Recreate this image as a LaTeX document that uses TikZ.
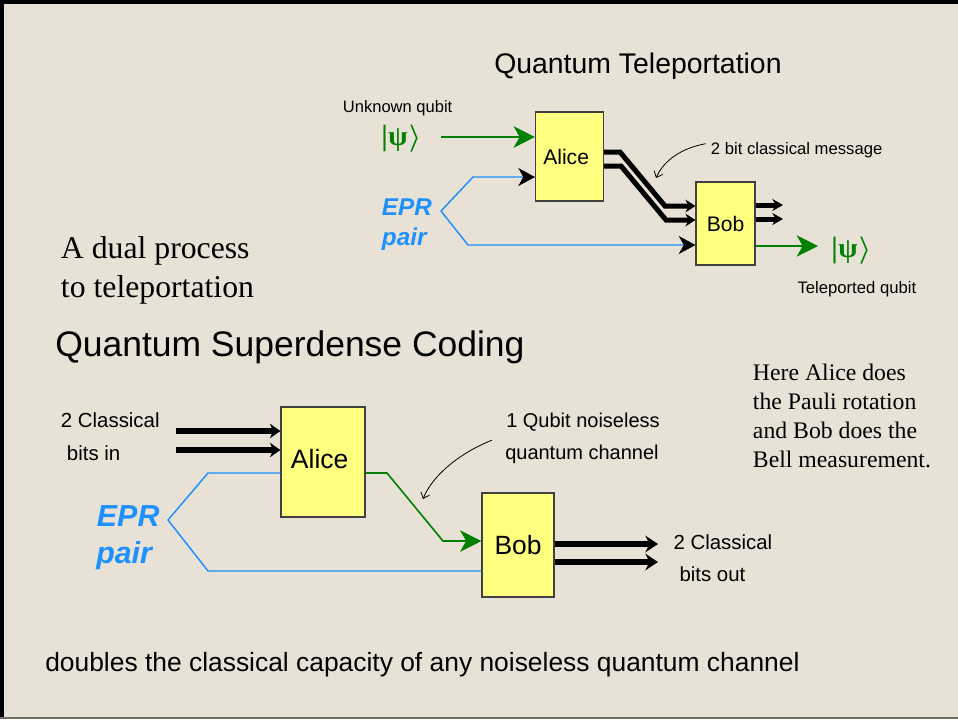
\documentclass[tikz,border=0pt]{standalone}
\usepackage{fontspec}
\setmainfont{Liberation Serif}
\newfontfamily\arial{Liberation Sans}
\usetikzlibrary{arrows.meta,calc}
\usepackage{amsmath}
\definecolor{bg}{RGB}{232,226,214}
\definecolor{boxfill}{RGB}{255,255,128}
\definecolor{qgreen}{RGB}{0,128,0}
\definecolor{eprblue}{RGB}{30,144,255}
\definecolor{borderline}{RGB}{110,110,96}
\newcommand{\fsz}[1]{\fontsize{#1}{#1}\selectfont}
\newcommand{\psiket}{{\fsz{22}\bfseries|}\kern0.5pt{\fsz{21}\bfseries ψ}\kern1pt{\fsz{22}$\boldsymbol{\rangle}$}}
\begin{document}
\begin{tikzpicture}[x=0.75pt,y=-0.75pt,
  box/.style={draw=black!75, line width=0.8pt, fill=boxfill, inner sep=0pt, font=\arial},
  lbl/.style={inner sep=0pt, anchor=base west},
  thk/.style={line width=3.75pt, black},
  thkd/.style={line width=4.5pt, black},
  blu/.style={eprblue, line width=1.1pt},
  grn/.style={qgreen, line width=1.5pt},
  note/.style={line width=0.6pt, black, -{Straight Barb[length=4pt,width=7pt]}},
  greenhead/.style={-{Stealth[length=16pt,width=16pt,inset=4.5pt]}},
  blackhead/.style={-{Stealth[length=12.5pt,width=13.5pt,inset=3.75pt,black]}},
  eprtxt/.style={lbl, text=eprblue, font=\arial\bfseries\itshape},
  psitxt/.style={lbl, text=qgreen}
]
\useasboundingbox (0,0) rectangle (958,719);
\fill[bg] (0,0) rectangle (958,719);
\fill[black] (0,0) rectangle (958,4);
\fill[black] (0,0) rectangle (3.5,719);
\fill[borderline] (0,717) rectangle (958,719);

% ---------- Quantum Teleportation ----------
\node[lbl, font=\arial\fsz{21.3}] (ttitle) at (494,73) {Quantum Teleportation};
\node[box, minimum width=51pt, minimum height=66.75pt, font=\arial\fsz{15.8}] (tA) at (569.5,156.5) {Alice\hspace*{5pt}};
\node[box, minimum width=44.25pt, minimum height=62.25pt, font=\arial\fsz{15.8}] (tB) at (725.5,223.5) {Bob};

\node[lbl, font=\arial\fsz{12.4}] (unk) at (342.7,112.7) {Unknown qubit};
\node[psitxt] (psi1) at (381,145) {\psiket};
\node[eprtxt, font=\arial\bfseries\itshape\fsz{18.2}] (epr1) at (381.7,215) {EPR};
\node[eprtxt, font=\arial\bfseries\itshape\fsz{18.2}] (pair1) at (381.7,245) {pair};
\node[lbl, font=\arial\fsz{12.5}] (msg) at (710.7,154) {2 bit classical message};
\node[psitxt] (psi2) at (831,257.5) {\psiket};
\node[lbl, font=\arial\fsz{12.5}] (telq) at (797.3,293.3) {Teleported qubit};

\coordinate (pin) at (441,137);
\draw[grn, greenhead] (pin) -- (pin -| tA.west);
\coordinate (tv) at (441,211);
\coordinate (tv1) at (473,177);
\coordinate (tv2) at (468,245);
\draw[blu, blackhead] (tv) -- (tv1) -- (tv1 -| tA.west);
\draw[blu, blackhead] (tv) -- (tv2) -- (tv2 -| tB.west);

\coordinate (c1a) at (620,152); \coordinate (c1b) at (665,206);
\coordinate (c2a) at (621,166); \coordinate (c2b) at (666,220);
\draw[thk, -{Stealth[length=7.5pt,width=9.5pt]}] (c1a -| tA.east) -- (c1a) -- (c1b) -- (c1b -| tB.west);
\draw[thk, -{Stealth[length=7.5pt,width=9.5pt]}] (c2a -| tA.east) -- (c2a) -- (c2b) -- (c2b -| tB.west);

\coordinate (o1) at (783,205); \coordinate (o2) at (783,219);
\draw[thk, -{Stealth[length=8pt,width=9pt]}] (tB.east |- o1) -- (o1);
\draw[thk, -{Stealth[length=8pt,width=9pt]}] (tB.east |- o2) -- (o2);
\coordinate (pout) at (818,246);
\draw[grn, greenhead] (tB.east |- pout) -- (pout);

\coordinate (mtip) at (656,178);
\draw[note] ($(msg.west)+(-5,-6)$) .. controls (682,148) and (664,160) .. (mtip);

% ---------- left serif text ----------
\node[lbl, font=\fsz{23.8}] (dual1) at (60.7,258.3) {A dual process};
\node[lbl, font=\fsz{23.8}] (dual2) at (60.7,297.3) {to teleportation};

% ---------- Quantum Superdense Coding ----------
\node[lbl, font=\arial\fsz{26.6}] (stitle) at (55,356) {Quantum Superdense Coding};
\node[box, minimum width=63pt, minimum height=82.5pt, text depth=4.5pt, font=\arial\fsz{19.9}] (sA) at (323,462) {Alice\hspace*{5pt}};
\node[box, minimum width=54pt, minimum height=78pt, font=\arial\fsz{19.8}] (sB) at (518,545) {Bob};

\node[lbl, font=\arial\fsz{15.3}] (cin1) at (60.7,427.3) {2 Classical};
\node[lbl, font=\arial\fsz{15.3}] (cin2) at (66.7,460) {bits in};
\node[eprtxt, font=\arial\bfseries\itshape\fsz{22.8}] (epr2) at (96.7,526) {EPR};
\node[eprtxt, font=\arial\bfseries\itshape\fsz{22.8}] (pair2) at (96,563) {pair};
\node[lbl, font=\arial\fsz{15}] (qch1) at (506,427.3) {1 Qubit noiseless};
\node[lbl, font=\arial\fsz{15}] (qch2) at (505,459.3) {quantum channel};
\node[lbl, font=\arial\fsz{15.3}] (cout1) at (673.3,549.3) {2 Classical};
\node[lbl, font=\arial\fsz{15.3}] (cout2) at (679.3,581.7) {bits out};

\node[lbl, font=\fsz{17.8}] (h1) at (752.7,380.7) {Here Alice does};
\node[lbl, font=\fsz{17.8}] (h2) at (752.7,409.5) {the Pauli rotation};
\node[lbl, font=\fsz{17.8}] (h3) at (752.7,438.4) {and Bob does the};
\node[lbl, font=\fsz{17.8}] (h4) at (752.7,467.3) {Bell measurement.};

\coordinate (i1) at (176,431); \coordinate (i2) at (176,450);
\draw[thkd, -{Stealth[length=8pt,width=11pt]}] (i1) -- (i1 -| sA.west);
\draw[thkd, -{Stealth[length=8pt,width=11pt]}] (i2) -- (i2 -| sA.west);

\coordinate (sb1) at (208,473); \coordinate (sv) at (168,520); \coordinate (sb2) at (208,571);
\draw[blu] (sb1 -| sA.west) -- (sb1) -- (sv) -- (sb2) -- (sb2 -| sB.west);

\coordinate (sg1) at (387,473); \coordinate (sg2) at (443,541);
\draw[qgreen, line width=1.2pt, greenhead] (sg1 -| sA.east) -- (sg1) -- (sg2) -- (sg2 -| sB.west);

\coordinate (so1) at (658,544); \coordinate (so2) at (658,562);
\draw[thkd, -{Stealth[length=9.5pt,width=12.5pt]}] (sB.east |- so1) -- (so1);
\draw[thkd, -{Stealth[length=9.5pt,width=12.5pt]}] (sB.east |- so2) -- (so2);

\coordinate (qtip) at (423,499);
\draw[note] ($(qch2.west)+(-13,-14)$) .. controls (462,452) and (433,474) .. (qtip);

% ---------- bottom ----------
\node[lbl, font=\arial\fsz{19.8}] (bottom) at (45,671) {doubles the classical capacity of any noiseless quantum channel};
\end{tikzpicture}
\end{document}
